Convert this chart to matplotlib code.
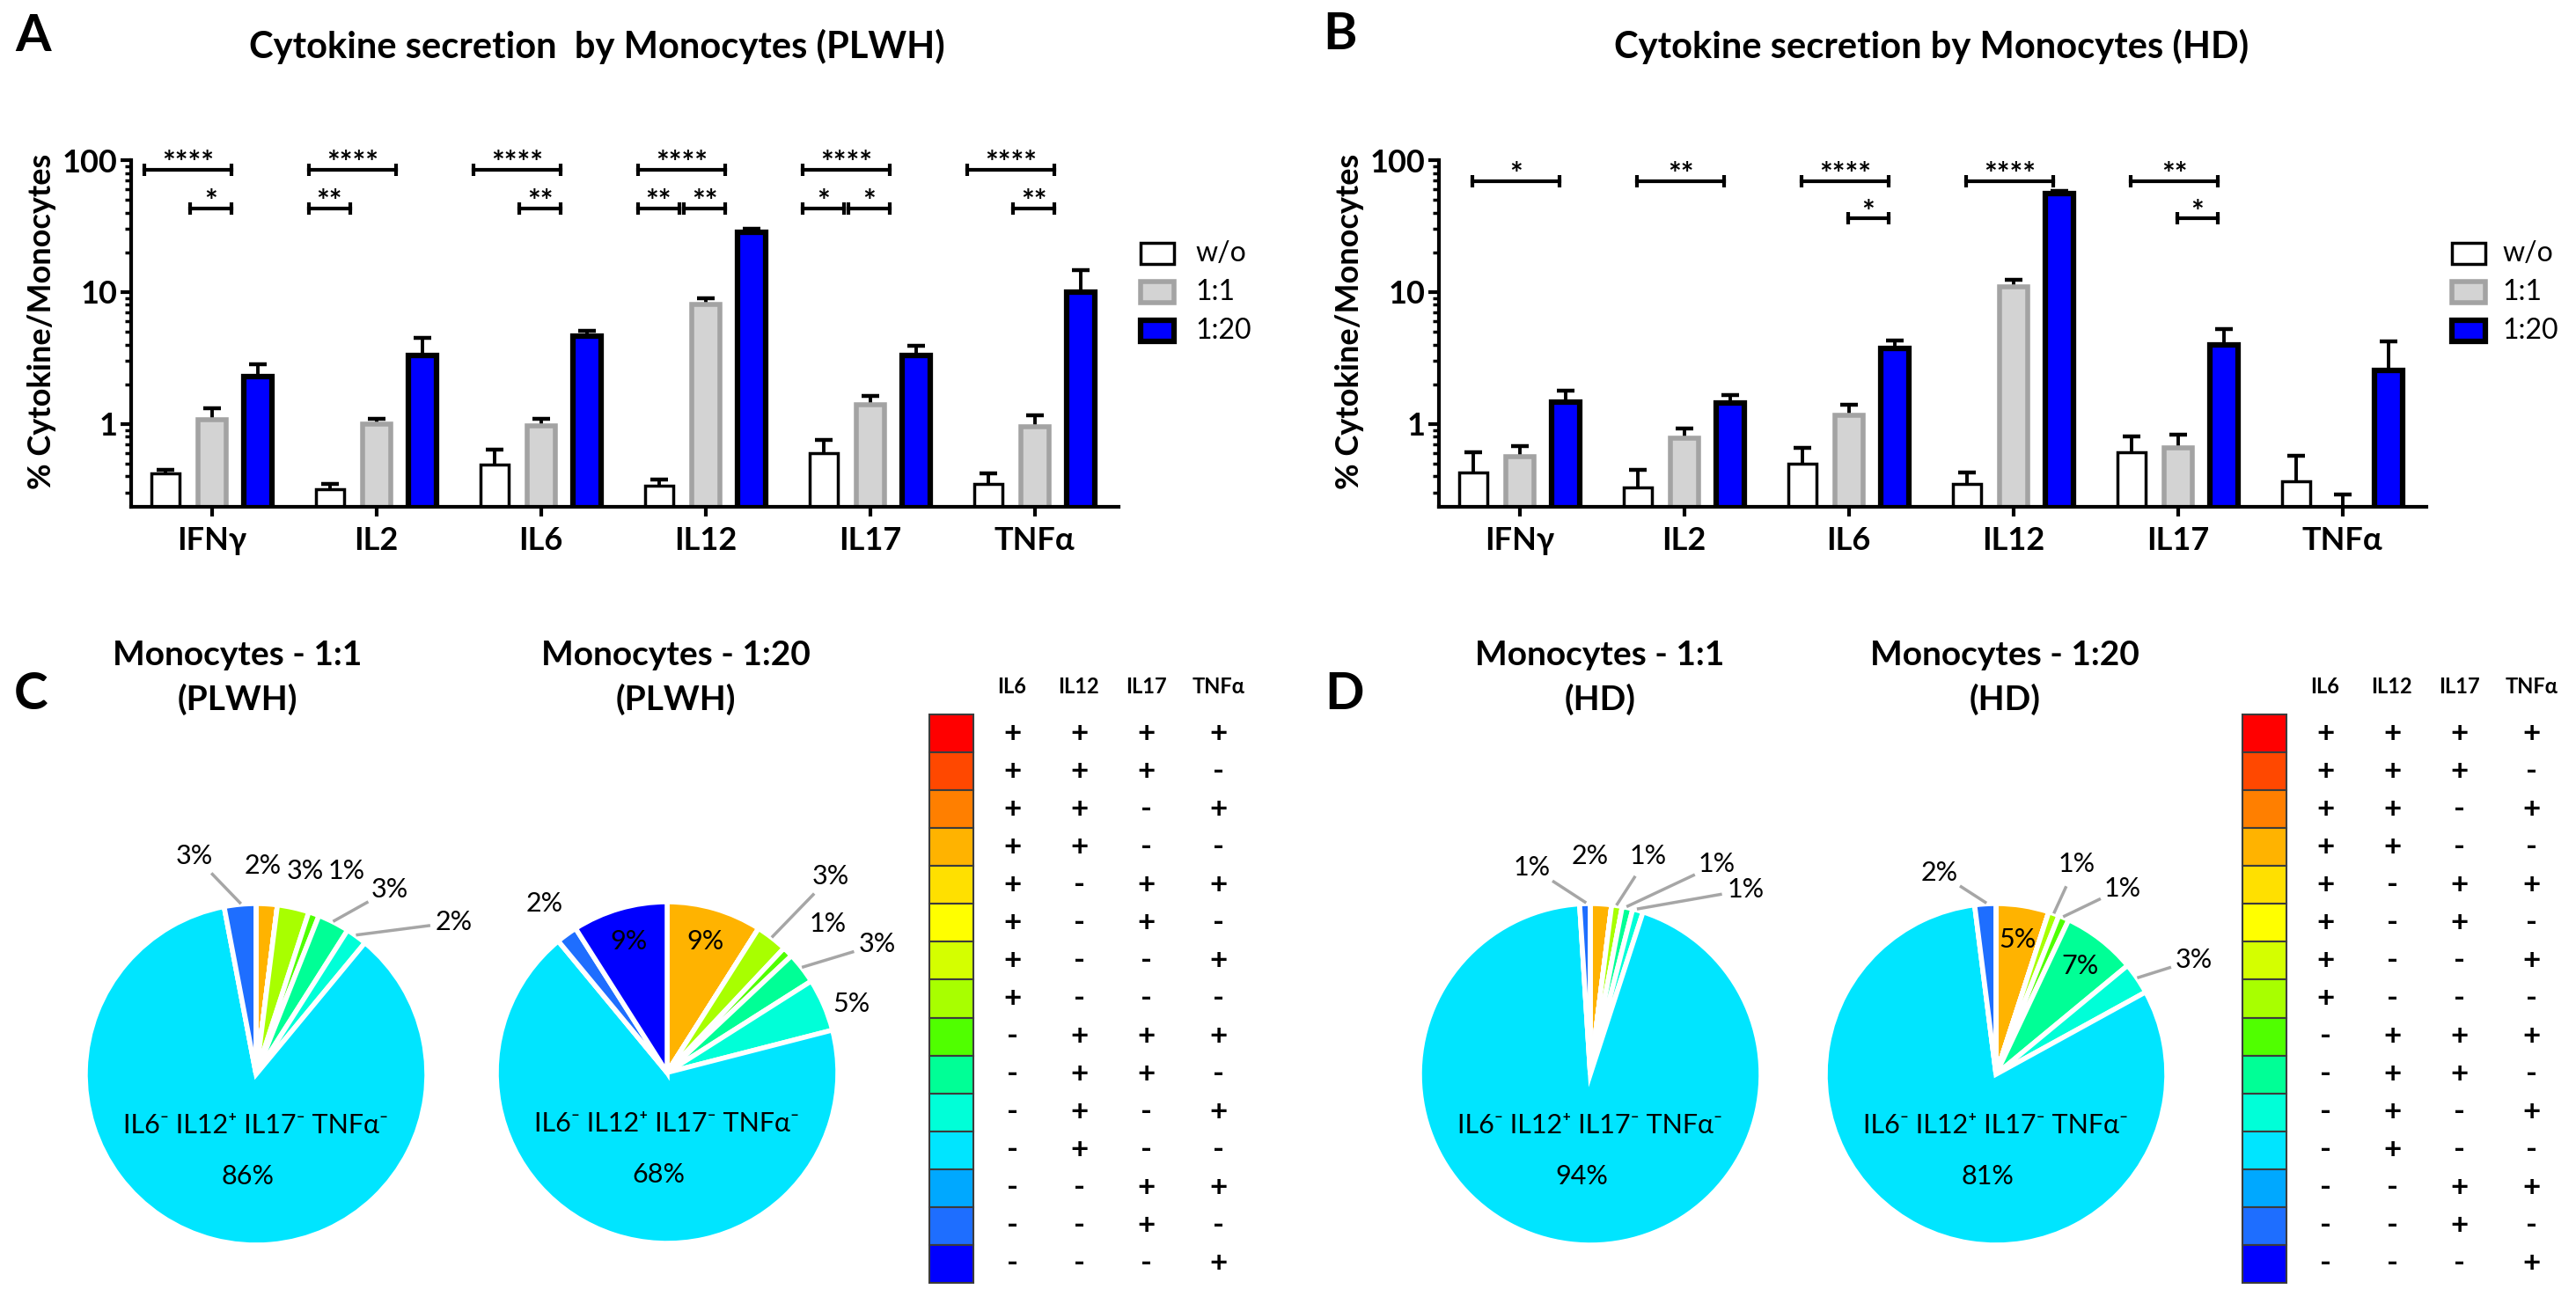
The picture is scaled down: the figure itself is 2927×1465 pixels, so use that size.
## cytokine secretion by monocytes (PLWH and HD): log bar charts and pie charts

import numpy as np
import matplotlib
matplotlib.use('Agg')
from matplotlib import pyplot as plt
from matplotlib.patches import Rectangle
from matplotlib.ticker import FixedLocator, LogLocator, NullFormatter

plt.rcParams['font.family'] = ['Lato', 'DejaVu Sans']

## ---- data ----
cytokines = ['IFNγ', 'IL2', 'IL6', 'IL12', 'IL17', 'TNFα']
conditions = ['w/o', '1:1', '1:20']

## PLWH, bar height and top of error bar (%)
plwh_wo = [0.42, 0.32, 0.49, 0.34, 0.60, 0.35]
plwh_wo_top = [0.45, 0.35, 0.64, 0.38, 0.75, 0.42]
plwh_11 = [1.08, 1.00, 0.97, 8.1, 1.39, 0.95]
plwh_11_top = [1.32, 1.10, 1.10, 9.0, 1.62, 1.17]
plwh_120 = [2.29, 3.3, 4.66, 28.3, 3.31, 10.0]
plwh_120_top = [2.84, 4.5, 5.1, 30.3, 3.92, 14.7]

## HD
hd_wo = [0.43, 0.33, 0.50, 0.35, 0.61, 0.365]
hd_wo_top = [0.61, 0.45, 0.66, 0.43, 0.80, 0.57]
hd_11 = [0.56, 0.78, 1.17, 11.0, 0.66, 0.20]
hd_11_top = [0.68, 0.92, 1.39, 12.3, 0.83, 0.29]
hd_120 = [1.47, 1.45, 3.73, 56.0, 4.0, 2.56]
hd_120_top = [1.78, 1.65, 4.28, 58.5, 5.25, 4.2]

## significance: (cytokine, condition a, condition b, row, stars)
plwh_sig = [(0, 0, 2, 0, '****'), (0, 1, 2, 1, '*'),
            (1, 0, 2, 0, '****'), (1, 0, 1, 1, '**'),
            (2, 0, 2, 0, '****'), (2, 1, 2, 1, '**'),
            (3, 0, 2, 0, '****'), (3, 0, 1, 1, '**'), (3, 1, 2, 1, '**'),
            (4, 0, 2, 0, '****'), (4, 0, 1, 1, '*'), (4, 1, 2, 1, '*'),
            (5, 0, 2, 0, '****'), (5, 1, 2, 1, '**')]
hd_sig = [(0, 0, 2, 0, '*'), (1, 0, 2, 0, '**'),
          (2, 0, 2, 0, '****'), (2, 1, 2, 1, '*'),
          (3, 0, 2, 0, '****'),
          (4, 0, 2, 0, '**'), (4, 1, 2, 1, '*')]

## marker combinations (IL6, IL12, IL17, TNFα) and their colours
markers = ['IL6', 'IL12', 'IL17', 'TNFα']
combos = ['++++', '+++-', '++-+', '++--', '+-++', '+-+-', '+--+', '+---',
          '-+++', '-++-', '-+-+', '-+--', '--++', '--+-', '---+']
combo_colors = ['#ff0000', '#ff4800', '#ff7f00', '#ffb300', '#ffe000',
                '#ffff00', '#d4ff00', '#a8ff00', '#50ff00', '#00ff96',
                '#00ffd8', '#00e5ff', '#00a8ff', '#1e6eff', '#0000ff']

## pie values (%) in the order of combos
pie_plwh_11 = [0, 0, 0, 2, 0, 0, 0, 3, 1, 3, 2, 86, 0, 3, 0]
pie_plwh_120 = [0, 0, 0, 9, 0, 0, 0, 3, 1, 3, 5, 68, 0, 2, 9]
pie_hd_11 = [0, 0, 0, 2, 0, 0, 0, 1, 0, 1, 1, 94, 0, 1, 0]
pie_hd_120 = [0, 0, 0, 5, 0, 0, 0, 1, 1, 7, 3, 81, 0, 2, 0]
main_label = 'IL6⁻ IL12⁺ IL17⁻ TNFα⁻'

## ---- figure ----
W, H = 2927, 1465
fig = plt.figure(figsize=(W / 100, H / 100), dpi=100)

ov = fig.add_axes([0, 0, 1, 1])
ov.set_xlim(0, W)
ov.set_ylim(H, 0)
ov.axis('off')
ov.patch.set_visible(False)


def pix_axes(x0, y0, x1, y1):
    return fig.add_axes([x0 / W, 1 - y1 / H, (x1 - x0) / W, (y1 - y0) / H])


bar_fill = ['white', '#d3d3d3', '#0000ff']
bar_edge = ['black', '#a3a3a3', 'black']
bar_lw = [2.5, 4, 4.5]
offs = [-0.28, 0, 0.28]


def bar_panel(ax, means, tops, sig, rows, shift):
    x = np.arange(len(cytokines))
    for k in range(3):
        m = np.array(means[k])
        t = np.array(tops[k])
        ax.bar(x + offs[k], m - 0.001, bottom=0.001, width=0.17,
               color=bar_fill[k], edgecolor=bar_edge[k], linewidth=bar_lw[k], zorder=2)
        ax.vlines(x + offs[k], m, t, colors='black', lw=2.8, zorder=1.5)
        ax.plot(x + offs[k], t, ls='none', marker='_', ms=14, mew=3.2,
                color='black', zorder=1.5)
    for g, i, j, r, s in sig:
        x1 = g + offs[i] + shift + 0.015
        x2 = g + offs[j] + shift - 0.015
        ax.plot([x1, x2], [rows[r], rows[r]], color='black', lw=3,
                marker='|', ms=10, mew=3, clip_on=False, zorder=4)
        ax.annotate(s, ((x1 + x2) / 2, rows[r]), xytext=(0, 5),
                    textcoords='offset points', ha='center', va='center',
                    fontsize=25, fontweight='bold')
    ax.set_yscale('log')
    ax.set_ylim(0.235, 100)
    ax.set_xlim(-0.49, 5.51)
    for sp in ['top', 'right']:
        ax.spines[sp].set_visible(False)
    for sp in ['left', 'bottom']:
        ax.spines[sp].set_linewidth(3)
    ax.yaxis.set_major_locator(FixedLocator([1, 10, 100]))
    ax.set_yticklabels(['1', '10', '100'], fontweight='bold', fontsize=26)
    ax.yaxis.set_minor_locator(LogLocator(base=10, subs=np.arange(2, 10)))
    ax.yaxis.set_minor_formatter(NullFormatter())
    ax.tick_params(axis='y', which='major', length=9, width=3, pad=2)
    ax.tick_params(axis='y', which='minor', length=5, width=2.5)
    ax.set_xticks(x)
    ax.set_xticklabels(cytokines, fontweight='bold', fontsize=26)
    ax.tick_params(axis='x', length=8, width=3, pad=8)


def legend(x0, xt):
    for k, lab in enumerate(conditions):
        y = 276 + 44 * k
        ov.add_patch(Rectangle((x0, y), 38, 24, facecolor=bar_fill[k],
                               edgecolor=bar_edge[k], lw=bar_lw[k]))
        ov.text(xt, y + 12, lab, fontsize=23, ha='left', va='center')


axA = pix_axes(149, 182, 1271, 576)
bar_panel(axA, [plwh_wo, plwh_11, plwh_120], [plwh_wo_top, plwh_11_top, plwh_120_top],
          plwh_sig, [84.5, 43], -0.145)
legend(1296, 1358)

axB = pix_axes(1635, 182, 2757, 576)
bar_panel(axB, [hd_wo, hd_11, hd_120], [hd_wo_top, hd_11_top, hd_120_top],
          hd_sig, [69, 36], -0.02)
legend(2786, 2843)

ov.text(678, 53, 'Cytokine secretion  by Monocytes (PLWH)', fontsize=30,
        fontweight='bold', ha='center', va='center')
ov.text(2195, 53, 'Cytokine secretion by Monocytes (HD)', fontsize=30,
        fontweight='bold', ha='center', va='center')
for xl in [48, 1534]:
    ov.text(xl, 365, '% Cytokine/Monocytes', fontsize=26, fontweight='bold',
            rotation=90, ha='center', va='center')
for letter, lx, ly in [('A', 38, 41), ('B', 1523, 40), ('C', 35, 790), ('D', 1527, 789)]:
    ov.text(lx, ly, letter, fontsize=42, fontweight='bold', ha='center', va='center')

## ---- pies ----
R = 194


def pie_panel(cx, cy, values, outside, inside, title, tx):
    ax = pix_axes(cx - R, cy - R, cx + R, cy + R)
    wedges, _ = ax.pie(values, colors=combo_colors, startangle=90, counterclock=False,
                       wedgeprops=dict(edgecolor='white', linewidth=4))
    ax.set_xlim(-1, 1)
    ax.set_ylim(-1, 1)
    mids = [np.deg2rad((w.theta1 + w.theta2) / 2) for w in wedges]
    for cat, (px, py), leader in outside:
        ax.text(px, py, '%d%%' % values[cat], fontsize=22, ha='center', va='center')
        if leader:
            rim = np.array([np.cos(mids[cat]), np.sin(mids[cat])]) * 1.01
            p = np.array([px, py])
            d = rim - p
            start = p + d / np.linalg.norm(d) * 0.15
            ax.plot([start[0], rim[0]], [start[1], rim[1]], color='#a6a6a6',
                    lw=2.5, clip_on=False)
    for cat in inside:
        ax.text(0.8 * np.cos(mids[cat]), 0.8 * np.sin(mids[cat]), '%d%%' % values[cat],
                fontsize=22, ha='center', va='center')
    ax.text(0, -0.3, main_label, fontsize=22, ha='center', va='center')
    ax.text(-0.05, -0.6, '%d%%' % values[11], fontsize=22, ha='center', va='center')
    ov.text(tx, 744, title[0], fontsize=28, fontweight='bold', ha='center', va='center')
    ov.text(tx, 795, title[1], fontsize=28, fontweight='bold', ha='center', va='center')


pie_panel(291, 1221, pie_plwh_11,
          [(13, (-0.36, 1.28), True), (3, (0.04, 1.22), False), (7, (0.29, 1.19), False),
           (8, (0.53, 1.19), False), (9, (0.78, 1.08), True), (10, (1.16, 0.89), True)],
          [], ('Monocytes - 1:1', '(PLWH)'), 270)
pie_panel(758, 1219, pie_plwh_120,
          [(7, (0.96, 1.15), True), (8, (0.94, 0.87), False), (9, (1.23, 0.75), True),
           (10, (1.08, 0.40), False), (13, (-0.72, 0.99), False)],
          [3, 14], ('Monocytes - 1:20', '(PLWH)'), 768)
pie_panel(1807, 1221, pie_hd_11,
          [(13, (-0.34, 1.21), True), (3, (0.0, 1.28), False), (7, (0.34, 1.28), True),
           (9, (0.74, 1.23), True), (10, (0.91, 1.08), True)],
          [], ('Monocytes - 1:1', '(HD)'), 1818)
pie_panel(2268, 1221, pie_hd_120,
          [(13, (-0.33, 1.18), True), (7, (0.47, 1.23), True), (8, (0.74, 1.09), True),
           (10, (1.16, 0.67), True)],
          [3, 9], ('Monocytes - 1:20', '(HD)'), 2278)

## ---- combination tables ----
col_dx = [44, 120, 196, 279]
row_h = (1458 - 812) / len(combos)


def combo_table(x0):
    for i, (combo, col) in enumerate(zip(combos, combo_colors)):
        y = 812 + i * row_h
        ov.add_patch(Rectangle((x0, y), 50, row_h, facecolor=col,
                               edgecolor='#3c3c3c', lw=1.5))
        for j, s in enumerate(combo):
            ov.text(x0 + 50 + col_dx[j], y + row_h / 2, s, fontsize=25,
                    fontweight='bold', ha='center', va='center')
    for j, name in enumerate(markers):
        ov.text(x0 + 50 + col_dx[j], 780, name, fontsize=17, fontweight='bold',
                ha='center', va='center')


combo_table(1056)
combo_table(2548)

fig.savefig('out.png', dpi=100)
